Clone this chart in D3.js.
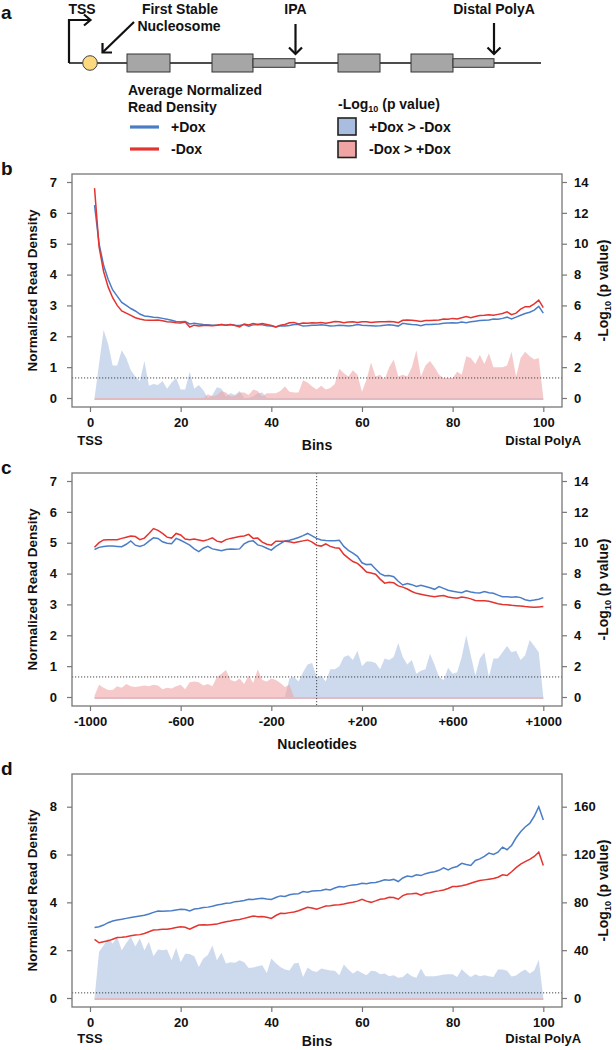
<!DOCTYPE html>
<html><head><meta charset="utf-8">
<script src="https://cdn.jsdelivr.net/npm/d3@7"></script>
<style>
body{margin:0;background:#fff}
svg text{font-family:"Liberation Sans",Arial,Helvetica,sans-serif;font-weight:bold;fill:#111}
</style></head><body>
<svg id="chart" width="616" height="1050"></svg>
<script>
// ---------------- DATA ----------------
// Panel b: 100 bins from TSS to distal polyA
const binsX = d3.range(1, 101);
const bBlue = [6.25,5.0,4.3,3.85,3.5,3.3,3.1,3.0,2.9,2.82,
2.72,2.66,2.64,2.62,2.61,2.58,2.55,2.52,2.48,2.47,
2.48,2.40,2.42,2.40,2.38,2.37,2.36,2.36,2.38,2.36,
2.38,2.36,2.35,2.38,2.33,2.37,2.38,2.37,2.34,2.33,
2.30,2.34,2.33,2.35,2.38,2.38,2.33,2.34,2.36,2.36,
2.37,2.36,2.33,2.34,2.36,2.35,2.33,2.35,2.38,2.36,
2.35,2.34,2.33,2.34,2.36,2.37,2.36,2.33,2.42,2.40,
2.38,2.37,2.34,2.38,2.38,2.39,2.40,2.42,2.43,2.44,
2.43,2.46,2.44,2.47,2.49,2.51,2.52,2.53,2.56,2.55,
2.58,2.62,2.56,2.62,2.68,2.74,2.78,2.85,2.97,2.75];
const bRed = [6.8,4.9,4.1,3.6,3.25,3.0,2.82,2.75,2.68,2.6,
2.56,2.53,2.52,2.52,2.53,2.50,2.47,2.46,2.44,2.43,
2.46,2.30,2.36,2.33,2.35,2.35,2.34,2.36,2.38,2.36,
2.38,2.35,2.30,2.40,2.37,2.41,2.38,2.41,2.38,2.35,
2.30,2.36,2.38,2.44,2.45,2.40,2.43,2.42,2.44,2.43,
2.45,2.42,2.45,2.48,2.47,2.44,2.46,2.47,2.45,2.47,
2.47,2.45,2.46,2.47,2.47,2.48,2.47,2.44,2.52,2.53,
2.52,2.50,2.48,2.51,2.51,2.52,2.53,2.56,2.55,2.58,
2.56,2.60,2.64,2.60,2.64,2.67,2.68,2.70,2.68,2.71,
2.74,2.79,2.70,2.75,2.88,2.96,2.96,3.05,3.17,2.93];
const bBlueP = [0,2.2,4.4,3.5,2.1,2.1,3.1,2.6,1.8,1.4,
1.1,2.4,0.8,0.9,0.85,1.1,0.6,1.0,1.3,0.55,
0.55,1.7,0.6,0.85,0.5,0,0.2,0.7,0.6,0.1,
0.3,0.2,0.45,0,0,0.1,0.3,0.35,0,0,
0,0,0,0,0,0,0,0,0,0, 0,0,0,0,0,0,0,0,0,0,
0,0,0,0,0,0,0,0,0,0, 0,0,0,0,0,0,0,0,0,0,
0,0,0,0,0,0,0,0,0,0, 0,0,0,0,0,0,0,0,0,0];
const bRedP = [0,0,0,0,0,0,0,0,0,0, 0,0,0,0,0,0,0,0,0,0,
0,0,0,0,0,0.25,0.1,0.2,0.45,0.35,
0.1,0.15,0.35,0.35,0.2,0.55,0.45,0.1,0.3,0.3,
0.3,0.45,0.75,0.4,0.35,0.35,1.15,1.0,0.75,0.55,
0.8,0.55,0.65,0.9,1.9,1.6,1.4,1.8,1.5,0.4,
1.2,2.3,1.4,1.5,1.2,2.0,2.5,1.4,1.5,1.4,
2.0,3.1,1.4,2.1,2.4,2.0,1.5,1.3,1.3,1.3,
1.7,1.5,2.7,2.6,2.2,2.8,2.2,2.9,2.0,2.0,
2.0,2.1,3.0,1.4,2.6,3.0,2.7,2.5,2.6,0];

// Panel c: nucleotides around the IPA (-980 .. +1000, step 20)
const ntX = d3.range(-980, 1001, 20);
const cRed = [4.85,5.0,5.09,5.1,5.1,5.1,5.14,5.18,5.22,5.2,
5.1,5.15,5.3,5.46,5.4,5.3,5.18,5.15,5.3,5.25,
5.12,5.1,5.12,5.09,5.06,5.1,5.16,5.05,5.02,5.1,
5.14,5.17,5.2,5.22,5.27,5.14,5.15,5.02,4.95,4.92,
5.05,5.05,5.05,5.03,5.0,5.03,5.06,5.09,5.02,4.92,
4.89,4.96,4.88,4.84,4.82,4.62,4.5,4.39,4.33,4.2,
4.05,4.02,3.98,3.82,3.69,3.72,3.7,3.6,3.56,3.5,
3.42,3.36,3.33,3.3,3.27,3.25,3.27,3.29,3.24,3.22,
3.2,3.24,3.22,3.18,3.13,3.12,3.12,3.1,3.06,3.02,
3.0,2.99,2.97,2.96,2.95,2.93,2.92,2.91,2.92,2.93];
const cBlue = [4.78,4.85,4.88,4.89,4.89,4.88,4.87,4.95,5.06,4.92,
4.88,4.93,5.05,5.16,5.14,5.03,4.98,4.97,5.14,5.08,
5.0,4.92,4.8,4.71,4.82,4.88,4.8,4.77,4.74,4.78,
4.8,4.79,4.8,4.96,5.04,5.06,4.93,4.89,4.82,4.76,
4.88,4.97,5.06,5.08,5.12,5.17,5.23,5.3,5.22,5.14,
5.09,5.07,5.06,5.06,5.08,4.88,4.75,4.66,4.56,4.35,
4.29,4.3,4.15,4.0,3.93,3.94,3.9,3.75,3.63,3.68,
3.64,3.58,3.62,3.58,3.54,3.49,3.58,3.52,3.46,3.43,
3.4,3.38,3.44,3.4,3.38,3.37,3.42,3.38,3.36,3.3,
3.25,3.25,3.23,3.25,3.22,3.15,3.12,3.14,3.17,3.22];
const cRedP = [0.1,0.8,0.6,0.45,0.45,0.7,0.6,0.85,0.7,0.65,
0.7,0.75,0.7,0.8,0.75,0.5,0.6,0.55,0.7,0.8,
0.5,0.95,1.0,0.95,0.75,0.85,0.7,1.3,1.5,1.75,
1.1,1.0,1.2,0.85,1.4,0.9,1.8,1.1,1.0,1.2,
1.1,0.9,0.65,0.8,0,0,0,0,0,0,
0,0,0,0,0,0,0,0,0,0, 0,0,0,0,0,0,0,0,0,0,
0,0,0,0,0,0,0,0,0,0, 0,0,0,0,0,0,0,0,0,0,
0,0,0,0,0,0,0,0,0,0];
const cBlueP = [0,0,0,0,0,0,0,0,0,0, 0,0,0,0,0,0,0,0,0,0,
0,0,0,0,0,0,0,0,0,0, 0,0,0,0,0,0,0,0,0,0,
0,0,0,1.2,1.3,1.0,1.6,2.1,2.2,1.3,
1.4,1.0,1.8,1.8,2.0,2.6,2.7,2.4,3.0,2.0,
2.3,2.3,2.2,1.8,2.5,2.4,2.6,3.5,2.6,2.1,
2.4,1.5,1.7,1.8,2.8,2.1,1.3,1.1,1.9,1.5,
1.6,2.6,4.0,2.7,1.4,2.5,2.9,1.3,2.5,2.5,
2.9,3.3,2.9,3.0,2.4,2.7,3.7,3.3,2.9,0];

// Panel d: 100 bins
const dBlue = [2.95,2.98,3.05,3.15,3.22,3.26,3.29,3.33,3.37,3.4,
3.43,3.46,3.51,3.58,3.64,3.63,3.64,3.65,3.68,3.71,
3.7,3.64,3.72,3.74,3.78,3.8,3.84,3.89,3.92,3.96,
3.97,4.03,4.05,4.08,4.13,4.12,4.15,4.17,4.14,4.12,
4.2,4.27,4.25,4.32,4.35,4.36,4.45,4.42,4.47,4.49,
4.5,4.55,4.52,4.6,4.66,4.64,4.7,4.73,4.75,4.8,
4.78,4.82,4.83,4.88,4.94,4.92,4.96,4.87,5.02,5.1,
5.07,5.15,5.12,5.2,5.25,5.28,5.34,5.44,5.36,5.45,
5.5,5.63,5.58,5.54,5.75,5.82,5.92,6.06,6.0,6.1,
6.31,6.2,6.38,6.7,6.95,7.15,7.3,7.6,8.0,7.44];
const dRed = [2.45,2.31,2.35,2.39,2.46,2.53,2.54,2.56,2.6,2.63,
2.65,2.7,2.77,2.84,2.85,2.87,2.88,2.91,2.95,2.98,
2.96,2.88,2.97,3.05,3.06,3.05,3.07,3.09,3.15,3.19,
3.22,3.26,3.28,3.33,3.38,3.43,3.4,3.41,3.38,3.33,
3.45,3.54,3.53,3.57,3.6,3.65,3.72,3.79,3.76,3.71,
3.78,3.85,3.86,3.89,3.9,3.93,3.97,4.0,4.05,4.13,
4.05,4.0,4.06,4.13,4.15,4.21,4.2,4.13,4.28,4.35,
4.36,4.38,4.3,4.38,4.4,4.45,4.48,4.52,4.58,4.66,
4.66,4.69,4.74,4.8,4.86,4.91,4.94,4.97,5.0,5.05,
5.15,5.12,5.28,5.45,5.6,5.7,5.8,5.92,6.1,5.54];
const dBlueP = [0,38.6,44,50,45.6,51,40,46,51,43,
50,40,47,35,40.6,40,40.6,31.6,42,30,
37,36.7,35,26,33,36,44,31.6,37.8,28.8,
30,29.4,31.6,30,25,25.5,26.6,27.4,21,33,
29,26,23.8,23,28.8,29.4,17.6,25.5,22.7,21.8,
24.6,23.8,23,22.7,19,28,23.8,20.4,23,21,
19,22.7,22.4,19.9,20.4,18.2,19,17,17.6,21,
18.2,17,24.6,18.2,18.2,18.2,18.8,19.6,19.9,19.9,
17.6,24,20.4,17.6,19.9,18.2,19,18.2,17.6,23.8,
23.8,22.7,18,18.8,21.8,23.8,20.4,23,32,0];
const dRedP = [0,0,0,0,0,0,0,0,0,0, 0,0,0,0,0,0,0,0,0,0,
0,0,0,0,0,0,0,0,0,0, 0,0,0,0,0,0,0,0,0,0,
0,0,0,0,0,0,0,0,0,0, 0,0,0,0,0,0,0,0,0,0,
0,0,0,0,0,0,0,0,0,0, 0,0,0,0,0,0,0,0,0,0,
0,0,0,0,0,0,0,0,0,0, 0,0,0,0,0,0,0,0,0,0];

// tick labels
const binTicks = [0,20,40,60,80,100];
const ntTicks = [-1000,-600,-200,200,600,1000];
const bcLeftTicks = [0,1,2,3,4,5,6,7];
const bcRightTicks = [0,2,4,6,8,10,12,14];
const dLeftTicks = [0,2,4,6,8];
const dRightTicks = [0,40,80,120,160];
const thresholds = {b:1.3, c:1.3, d:4.3};

// gene schematic (schematic units along the gene)
const geneSpan = [0, 472];
const exons = [[58,101],[143,184],[269,311],[342,384]];
const utrs = [[184,226],[384,425]];
const tssPos = 0, nucPos = 21, ipaPos = 226.5, polyAPos = 425;

// ---------------- STYLE ----------------
const BLUE = "#4b7dc7", RED = "#e3342f";
const BLUEF = "#a9bfe0", REDF = "#f0a3a3";
const svg = d3.select("#chart");

// ---------------- PANEL A ----------------
(function(){
  const g = svg.append("g");
  const gx = d3.scaleLinear().domain(geneSpan).range([69, 541]);
  const yLine = 63;
  g.append("text").attr("x",1).attr("y",19).attr("font-size",19).text("a");
  g.append("line").attr("x1",gx(geneSpan[0])).attr("x2",gx(geneSpan[1]))
    .attr("y1",yLine).attr("y2",yLine).attr("stroke","#111").attr("stroke-width",1.3);
  g.selectAll("rect.exon").data(exons).join("rect").attr("class","exon")
    .attr("x",d=>gx(d[0])).attr("width",d=>gx(d[1])-gx(d[0]))
    .attr("y",yLine-9).attr("height",18)
    .attr("fill","#a6a6a6").attr("stroke","#333").attr("stroke-width",1);
  g.selectAll("rect.utr").data(utrs).join("rect").attr("class","utr")
    .attr("x",d=>gx(d[0])).attr("width",d=>gx(d[1])-gx(d[0]))
    .attr("y",yLine-4.3).attr("height",8.6)
    .attr("fill","#a6a6a6").attr("stroke","#333").attr("stroke-width",1);
  g.append("circle").attr("cx",gx(nucPos)).attr("cy",yLine).attr("r",7.3)
    .attr("fill","#fcd97f").attr("stroke","#444").attr("stroke-width",1);
  const st = {stroke:"#111","stroke-width":2.2,fill:"none"};
  function P(d){const p=g.append("path").attr("d",d);for(const k in st)p.attr(k,st[k]);return p;}
  // TSS bent arrow
  const tx = gx(tssPos);
  P(`M${tx},${yLine} V20 H${tx+21}`);
  P(`M${tx+15},14.5 L${tx+21.5},20 L${tx+15},25.5`);
  // nucleosome arrow
  P(`M134,22 L103,52`);
  P(`M102.5,43 L102.5,52.5 L112,52.5`);
  // IPA and distal polyA arrows
  [[ipaPos,24],[polyAPos,23]].forEach(([p,top])=>{
    const x=gx(p);
    P(`M${x},${top} V54`);
    P(`M${x-6.5},47.5 L${x},54 L${x+6.5},47.5`);
  });
  const t = (x,y,s,anchor)=>g.append("text").attr("x",x).attr("y",y).attr("font-size",14)
     .attr("text-anchor",anchor||"middle").text(s);
  t(82,14,"TSS"); t(180,14,"First Stable"); t(179,31,"Nucleosome");
  t(gx(ipaPos),14,"IPA"); t(gx(polyAPos),14,"Distal PolyA");
  // legend
  t(128,95,"Average Normalized","start"); t(128,112,"Read Density","start");
  g.append("line").attr("x1",130).attr("x2",159).attr("y1",127).attr("y2",127).attr("stroke",BLUE).attr("stroke-width",3.2);
  g.append("line").attr("x1",130).attr("x2",159).attr("y1",149).attr("y2",149).attr("stroke",RED).attr("stroke-width",3.2);
  t(171,132,"+Dox","start"); t(171,154,"-Dox","start");
  const lg = g.append("text").attr("x",338).attr("y",109).attr("font-size",14);
  lg.append("tspan").text("-Log");
  lg.append("tspan").attr("font-size",9).attr("dy",3).text("10");
  lg.append("tspan").attr("dy",-3).text(" (p value)");
  g.append("rect").attr("x",338).attr("y",118).attr("width",18).attr("height",17)
    .attr("fill","#a9bde0").attr("stroke","#222").attr("stroke-width",1.6);
  g.append("rect").attr("x",338).attr("y",141).attr("width",18).attr("height",16.5)
    .attr("fill","#f0a4a4").attr("stroke","#222").attr("stroke-width",1.6);
  t(369,132,"+Dox > -Dox","start"); t(369,154,"-Dox > +Dox","start");
})();

// ---------------- PLOT PANELS ----------------
function panel(o){
  const g = svg.append("g").attr("transform",`translate(0,${o.dy})`);
  const L=72,R=562,T=174,B=407;
  const x = d3.scaleLinear().domain(o.xDomain).range([90,543.3]);
  const yL = d3.scaleLinear().domain([0,o.lMax]).range([398,o.lTopPx]);
  const yR = d3.scaleLinear().domain([0,o.rMax]).range([398,o.lTopPx]);
  const xs = o.xs;
  g.append("text").attr("x",1).attr("y",175).attr("font-size",19).text(o.letter);
  // significance areas
  const area = d3.area().x((d,i)=>x(xs[i])).y0(yR(0)+2).y1(d=>yR(d));
  g.append("path").datum(o.blueP).attr("d",area).attr("fill",BLUEF).attr("fill-opacity",0.58);
  g.append("path").datum(o.redP).attr("d",area).attr("fill",REDF).attr("fill-opacity",0.58);
  // threshold
  g.append("line").attr("x1",L).attr("x2",R).attr("y1",yR(o.thr)).attr("y2",yR(o.thr))
    .attr("stroke","#333").attr("stroke-width",0.9).attr("stroke-dasharray","1.2,1.8");
  if(o.vline!==undefined){
    g.append("line").attr("x1",x(o.vline)).attr("x2",x(o.vline)).attr("y1",T).attr("y2",B)
      .attr("stroke","#333").attr("stroke-width",0.9).attr("stroke-dasharray","1.2,1.8");
  }
  const line = d3.line().x((d,i)=>x(xs[i])).y(d=>yL(d));
  g.append("path").datum(o.blue).attr("d",line).attr("fill","none").attr("stroke",BLUE).attr("stroke-width",1.5);
  g.append("path").datum(o.red).attr("d",line).attr("fill","none").attr("stroke",RED).attr("stroke-width",1.5);
  // frame
  g.append("rect").attr("x",L).attr("y",T).attr("width",R-L).attr("height",B-T)
    .attr("fill","none").attr("stroke","#777").attr("stroke-width",1.3);
  const styleAxis = a=>{a.select(".domain").remove();
    a.selectAll(".tick line").attr("stroke","#777").attr("stroke-width",1.2);
    a.selectAll(".tick text").attr("font-size",13).attr("font-family",null).attr("fill","#111");};
  g.append("g").attr("transform",`translate(${L},0)`)
    .call(d3.axisLeft(yL).tickValues(o.lTicks).tickSize(5).tickPadding(10).tickFormat(d3.format("d"))).call(styleAxis);
  g.append("g").attr("transform",`translate(${R},0)`)
    .call(d3.axisRight(yR).tickValues(o.rTicks).tickSize(5).tickPadding(7).tickFormat(d3.format("d"))).call(styleAxis);
  g.append("g").attr("transform",`translate(0,${B})`)
    .call(d3.axisBottom(x).tickValues(o.xTicks).tickSize(5).tickPadding(6).tickFormat(o.xFmt)).call(styleAxis);
  // titles
  g.append("text").attr("transform",`translate(37,${(T+B)/2}) rotate(-90)`).attr("text-anchor","middle")
    .attr("font-size",13.5).text("Normalized Read Density");
  const rt = g.append("text").attr("transform",`translate(608,${(T+B)/2}) rotate(-90)`).attr("text-anchor","middle")
    .attr("font-size",14);
  rt.append("tspan").text("-Log");
  rt.append("tspan").attr("font-size",9).attr("dy",2.5).text("10");
  rt.append("tspan").attr("dy",-2.5).text(" (p value)");
  g.append("text").attr("x",(L+R)/2).attr("y",o.titleY).attr("text-anchor","middle").attr("font-size",14).text(o.xTitle);
  if(o.ends){
    g.append("text").attr("x",x(o.xDomain[0])).attr("y",o.endsY).attr("text-anchor","middle").attr("font-size",13).text(o.ends[0]);
    g.append("text").attr("x",x(o.xDomain[1])).attr("y",o.endsY).attr("text-anchor","middle").attr("font-size",13).text(o.ends[1]);
  }
}

panel({dy:0, letter:"b", xs:binsX, xDomain:[0,100], xTicks:binTicks, xFmt:d3.format("d"),
  lMax:7, rMax:14, lTopPx:182, lTicks:bcLeftTicks, rTicks:bcRightTicks,
  blue:bBlue, red:bRed, blueP:bBlueP, redP:bRedP, thr:thresholds.b,
  xTitle:"Bins", titleY:450, ends:["TSS","Distal PolyA"], endsY:445});
panel({dy:299, letter:"c", xs:ntX, xDomain:[-1000,1000], xTicks:ntTicks,
  xFmt:d=>d>0?"+"+d:String(d),
  lMax:7, rMax:14, lTopPx:182, lTicks:bcLeftTicks, rTicks:bcRightTicks,
  blue:cBlue, red:cRed, blueP:cBlueP, redP:cRedP, thr:thresholds.c, vline:0,
  xTitle:"Nucleotides", titleY:450});
panel({dy:600, letter:"d", xs:binsX, xDomain:[0,100], xTicks:binTicks, xFmt:d3.format("d"),
  lMax:8, rMax:160, lTopPx:206.7, lTicks:dLeftTicks, rTicks:dRightTicks,
  blue:dBlue, red:dRed, blueP:dBlueP, redP:dRedP, thr:thresholds.d,
  xTitle:"Bins", titleY:446, ends:["TSS","Distal PolyA"], endsY:443});
</script>
</body></html>
